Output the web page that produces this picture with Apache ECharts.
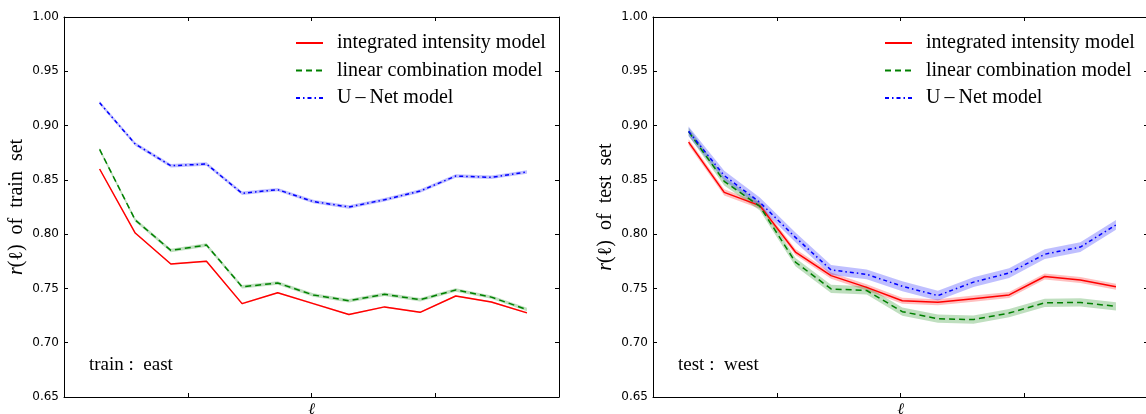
<!DOCTYPE html>
<html>
<head>
<meta charset="utf-8">
<script src="https://cdn.jsdelivr.net/npm/echarts@6/dist/echarts.min.js"></script>
<style>
  html, body { margin: 0; padding: 0; background: #fff; }
  #chart { width: 1146px; height: 414px; }
</style>
</head>
<body>
<div id="chart"></div>
<script>
// multipole index (no tick labels shown on the x axis)
const ell = [1, 2, 3, 4, 5, 6, 7, 8, 9, 10, 11, 12, 13];

const seriesNames = ['integrated intensity model', 'linear combination model', 'U\u2009\u2013\u2009Net model'];

// train set (east)
const trainIntegrated = [0.860, 0.801, 0.7725, 0.775, 0.736, 0.746, 0.736, 0.726, 0.733, 0.728, 0.743, 0.7375, 0.7275];
const trainLinear     = [0.878, 0.813, 0.785, 0.790, 0.7515, 0.755, 0.744, 0.7387, 0.7446, 0.7396, 0.7486, 0.742, 0.7305];
const trainUNet       = [0.921, 0.883, 0.863, 0.8646, 0.8376, 0.841, 0.830, 0.825, 0.8317, 0.8397, 0.8535, 0.8523, 0.8572];
const trainIntegratedErr = [0.0007, 0.0007, 0.0007, 0.0007, 0.0007, 0.0007, 0.0007, 0.0007, 0.0007, 0.0007, 0.0007, 0.0007, 0.0007];
const trainLinearErr     = [0.0016, 0.0016, 0.0016, 0.0016, 0.0016, 0.0016, 0.0016, 0.0016, 0.0016, 0.0016, 0.0016, 0.0016, 0.0016];
const trainUNetErr       = [0.0016, 0.0016, 0.0016, 0.0016, 0.0016, 0.0016, 0.0016, 0.0016, 0.0016, 0.0016, 0.0016, 0.0016, 0.0016];

// test set (west)
const testIntegrated = [0.8847, 0.8385, 0.8263, 0.7835, 0.7618, 0.751, 0.7387, 0.7372, 0.7406, 0.744, 0.761, 0.7577, 0.7516];
const testLinear     = [0.8944, 0.8486, 0.8256, 0.7742, 0.7495, 0.7481, 0.7286, 0.7221, 0.7213, 0.7273, 0.7367, 0.7371, 0.7335];
const testUNet       = [0.8947, 0.8539, 0.8293, 0.797, 0.767, 0.763, 0.752, 0.7434, 0.7558, 0.7642, 0.7815, 0.7881, 0.8085];
const testIntegratedErr = [0.0028, 0.0028, 0.0028, 0.0028, 0.0028, 0.0028, 0.0028, 0.0028, 0.0028, 0.0028, 0.0028, 0.0028, 0.0028];
const testLinearErr     = [0.0038, 0.0038, 0.0038, 0.0038, 0.0038, 0.0038, 0.0038, 0.0038, 0.0038, 0.0038, 0.0038, 0.0038, 0.0038];
const testUNetErr       = [0.0045, 0.0045, 0.0045, 0.0045, 0.0045, 0.0045, 0.0045, 0.0045, 0.0045, 0.0045, 0.0045, 0.0045, 0.0045];

const yTicks = [0.65, 0.70, 0.75, 0.80, 0.85, 0.90, 0.95, 1.00];

const SERIF = '"Liberation Serif", "DejaVu Serif", serif';
const SANS = '"DejaVu Sans", sans-serif';
const colors = ['#ff0000', '#008000', '#0000ff'];
const bandColors = ['rgba(255,0,0,0.25)', 'rgba(0,128,0,0.25)', 'rgba(0,0,255,0.25)'];
const dashes = ['solid', [6, 4], [4, 3, 1.5, 3]];

const chart = echarts.init(document.getElementById('chart'), null, { renderer: 'canvas' });

const XMAX = 13.9;
function xAxes(gi) {
  return [
    { type: 'value', gridIndex: gi, position: 'bottom', min: 0, max: XMAX, interval: XMAX / 4,
      name: '\u2113', nameLocation: 'middle', nameGap: 5,
      nameTextStyle: { fontFamily: SERIF, fontStyle: 'italic', fontSize: 16, color: '#000', verticalAlign: 'top' },
      axisLine: { show: true, onZero: false, lineStyle: { color: '#000', width: 1 } },
      axisTick: { show: true, inside: true, length: 4, lineStyle: { color: '#000' } },
      axisLabel: { show: false }, splitLine: { show: false } },
    { type: 'value', gridIndex: gi, position: 'top', min: 0, max: XMAX, interval: XMAX / 4,
      axisLine: { show: true, onZero: false, lineStyle: { color: '#000', width: 1 } },
      axisTick: { show: true, inside: true, length: 4, lineStyle: { color: '#000' } },
      axisLabel: { show: false }, splitLine: { show: false } }
  ];
}
function yAxes(gi, label) {
  return [
    { type: 'value', gridIndex: gi, position: 'left', min: 0.65, max: 1.0, interval: 0.05,
      name: label, nameLocation: 'middle', nameGap: 37,
      nameTextStyle: { fontFamily: SERIF, fontSize: 20, color: '#000',
        rich: { i: { fontFamily: SERIF, fontStyle: 'italic', fontSize: 20, color: '#000' } } },
      axisLine: { show: true, onZero: false, lineStyle: { color: '#000', width: 1 } },
      axisTick: { show: true, inside: true, length: 4, lineStyle: { color: '#000' } },
      axisLabel: { show: true, margin: 5, fontFamily: SANS, fontSize: 12, color: '#000',
        formatter: v => v.toFixed(2) },
      splitLine: { show: false } },
    { type: 'value', gridIndex: gi, position: 'right', min: 0.65, max: 1.0, interval: 0.05,
      axisLine: { show: true, onZero: false, lineStyle: { color: '#000', width: 1 } },
      axisTick: { show: true, inside: true, length: 4, lineStyle: { color: '#000' } },
      axisLabel: { show: false }, splitLine: { show: false } }
  ];
}

function band(name, ys, err, color, xi, yi) {
  return {
    type: 'custom', name: name, xAxisIndex: xi, yAxisIndex: yi, silent: true, z: 1,
    data: [[ell[0], ys[0]]],
    renderItem: function (params, api) {
      const pts = [];
      for (let i = 0; i < ell.length; i++) pts.push(api.coord([ell[i], ys[i] - err[i]]));
      for (let i = ell.length - 1; i >= 0; i--) pts.push(api.coord([ell[i], ys[i] + err[i]]));
      return { type: 'polygon', shape: { points: pts }, style: { fill: color } };
    }
  };
}
function line(name, ys, k, xi, yi) {
  return {
    type: 'line', name: name, xAxisIndex: xi, yAxisIndex: yi, z: 3,
    data: ell.map((x, i) => [x, ys[i]]),
    symbol: 'none', showSymbol: false, smooth: false,
    lineStyle: { color: colors[k], width: 1.5, type: dashes[k] },
    itemStyle: { color: colors[k] }
  };
}

const trainSets = [[trainIntegrated, trainIntegratedErr], [trainLinear, trainLinearErr], [trainUNet, trainUNetErr]];
const testSets = [[testIntegrated, testIntegratedErr], [testLinear, testLinearErr], [testUNet, testUNetErr]];

const series = [];
trainSets.forEach((s, k) => series.push(band('band-train-' + k, s[0], s[1], bandColors[k], 0, 0)));
testSets.forEach((s, k) => series.push(band('band-test-' + k, s[0], s[1], bandColors[k], 2, 2)));
trainSets.forEach((s, k) => series.push(line(seriesNames[k], s[0], k, 0, 0)));
testSets.forEach((s, k) => series.push(line(seriesNames[k], s[0], k, 2, 2)));

function legend(left) {
  return {
    show: true, orient: 'vertical', left: left, top: 28,
    data: seriesNames, itemWidth: 27, itemHeight: 14, itemGap: 7.5,
    selectedMode: false,
    itemStyle: { opacity: 0, color: 'transparent', borderColor: 'transparent', borderWidth: 0 },
    textStyle: { fontFamily: SERIF, fontSize: 20, color: '#000', padding: [0, 0, 0, 9] }
  };
}

const option = {
  animation: false,
  backgroundColor: '#fff',
  grid: [
    { left: 64, top: 17, width: 495, height: 380, show: false, outerBoundsMode: 'none', containLabel: false },
    { left: 653, top: 17, width: 495, height: 380, show: false, outerBoundsMode: 'none', containLabel: false }
  ],
  xAxis: [...xAxes(0), ...xAxes(1)],
  yAxis: [...yAxes(0, '{i|r}(\u2113)  of  train  set'), ...yAxes(1, '{i|r}(\u2113)  of  test  set')],
  legend: [legend(290), legend(879)],
  graphic: [
    { type: 'text', left: 89, top: 356, style: { text: 'train :  east', font: '19px ' + SERIF, fill: '#000' } },
    { type: 'text', left: 678, top: 356, style: { text: 'test :  west', font: '19px ' + SERIF, fill: '#000' } }
  ],
  series: series
};
chart.setOption(option);
</script>
</body>
</html>
